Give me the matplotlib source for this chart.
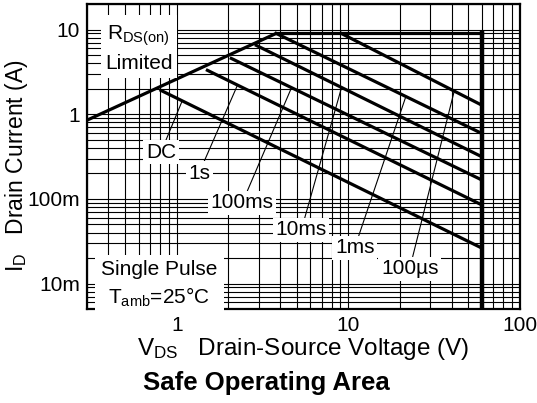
import matplotlib
matplotlib.use('Agg')
import matplotlib.pyplot as plt
from matplotlib.ticker import LogLocator, NullFormatter

plt.rcParams['font.family'] = ['Liberation Sans', 'DejaVu Sans']
plt.rcParams['mathtext.default'] = 'regular'

# RDS(on) limit, current plateau and voltage limit
rds_v = [0.3, 3.8]
rds_i = [0.85, 9.0]
plateau_v = [3.8, 60]
plateau_i = [9.0, 9.0]
vmax_v = [60, 60]
vmax_i = [9.0, 0.005]

# pulse curves: break point on the envelope -> end at 60 V
pulse_names = ['DC', '1s', '100ms', '10ms', '1ms', '100\u00b5s']
pulse_v = [[0.81, 60], [1.51, 60], [2.08, 60], [2.91, 60], [3.8, 60], [9.1, 60]]
pulse_i = [[1.91, 0.0263], [3.3, 0.085], [4.56, 0.1675], [6.5, 0.315], [9.0, 0.593], [9.0, 1.28]]

# label positions and the point each pointer touches
label_v = [0.81, 1.35, 2.41, 5.33, 10.9, 22.8]
label_i = [0.357, 0.202, 0.0898, 0.0432, 0.0265, 0.015]
point_v = [1.077, 2.26, 4.66, 9.14, 21.6, 41.7]
point_i = [1.44, 2.2, 2.04, 2.07, 1.59, 1.96]

xticks = [1, 10, 100]
xticklabels = ['1', '10', '100']
yticks = [0.01, 0.1, 1, 10]
yticklabels = ['10m', '100m', '1', '10']

fig = plt.figure(figsize=(5.37, 4.03), dpi=100)
ax = fig.add_axes([0.162, 0.233, 0.806, 0.757])
ax.set_xscale('log')
ax.set_yscale('log')
ax.set_xlim(0.3, 100)
ax.set_ylim(0.005, 20)

ax.xaxis.set_minor_locator(LogLocator(base=10, subs=range(2, 10)))
ax.yaxis.set_minor_locator(LogLocator(base=10, subs=range(2, 10)))
ax.xaxis.set_minor_formatter(NullFormatter())
ax.yaxis.set_minor_formatter(NullFormatter())
ax.grid(True, which='both', color='black', lw=0.8)
ax.set_axisbelow(True)

ax.set_xticks(xticks)
ax.set_xticklabels(xticklabels)
ax.set_yticks(yticks)
ax.set_yticklabels(yticklabels)
ax.tick_params(which='both', length=0, labelsize=15, pad=5)
for s in ax.spines.values():
    s.set_linewidth(1.6)

ax.plot(rds_v, rds_i, color='black', lw=2.3, solid_capstyle='butt')
ax.plot(plateau_v, plateau_i, color='black', lw=2.3)
ax.plot(vmax_v, vmax_i, color='black', lw=3.2)
for v, i in zip(pulse_v, pulse_i):
    ax.plot(v, i, color='black', lw=2.3)

box = dict(boxstyle='square,pad=0.12', fc='white', ec='none')
for name, lv, li, pv, pi in zip(pulse_names, label_v, label_i, point_v, point_i):
    ax.annotate(name, xy=(pv, pi), xytext=(lv, li), ha='center', va='center',
                fontsize=15, bbox=box,
                arrowprops=dict(arrowstyle='-', lw=0.8, color='black',
                                shrinkA=0, shrinkB=0))

ax.text(0.60, 6.0, '$R_{DS(on)}$\nLimited', ha='center', va='center',
        fontsize=15, linespacing=1.45,
        bbox=dict(boxstyle='square,pad=0.2', fc='white', ec='none'))
ax.text(0.79, 0.0098, 'Single Pulse\n$T_{amb}$=25\u00b0C', ha='center', va='center',
        fontsize=15, linespacing=1.35,
        bbox=dict(boxstyle='square,pad=0.3', fc='white', ec='none'))

ax.set_xlabel('$V_{DS}$   Drain-Source Voltage (V)', fontsize=17.5, labelpad=1)
ax.set_ylabel('$I_D$   Drain Current (A)', fontsize=16.5)
ax.yaxis.set_label_coords(-0.131, 0.47)
fig.text(0.496, 0.05, 'Safe Operating Area', ha='center', va='center',
         fontsize=18.5, fontweight='bold')

fig.savefig('out.png', dpi=100)
